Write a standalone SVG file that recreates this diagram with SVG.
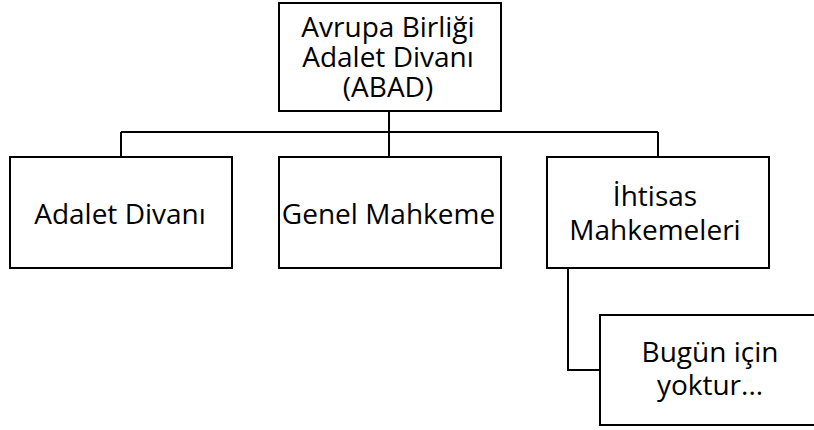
<svg xmlns="http://www.w3.org/2000/svg" width="814" height="430" viewBox="0 0 814 430">
<style>
.box{fill:#fff;stroke:#000;stroke-width:2}
.t{font-family:"Open Sans",Lato,sans-serif;font-size:28px;fill:#000;text-anchor:middle}
.c{fill:none;stroke:#000;stroke-width:2}
</style>
<rect width="814" height="430" fill="#fff"/>
<g id="connectors">
<path class="c" d="M389 111V132M121 132H658M121 132V157M389 132V157M658 132V157"/>
<path class="c" d="M568 268V370H600"/>
</g>
<g id="abad">
<rect class="box" x="279" y="3" width="222" height="108"/>
<text class="t" x="388" y="37">Avrupa Birliği</text>
<text class="t" x="388" y="67">Adalet Divanı</text>
<text class="t" x="388" y="97">(ABAD)</text>
</g>
<g id="adalet-divani">
<rect class="box" x="10" y="157" width="222" height="111"/>
<text class="t" x="120" y="224">Adalet Divanı</text>
</g>
<g id="genel-mahkeme">
<rect class="box" x="279" y="157" width="222" height="111"/>
<text class="t" x="388.5" y="224">Genel Mahkeme</text>
</g>
<g id="ihtisas">
<rect class="box" x="547" y="157" width="222" height="111"/>
<text class="t" x="655" y="206">İhtisas</text>
<text class="t" x="655" y="240">Mahkemeleri</text>
</g>
<g id="bugun">
<rect class="box" x="600" y="315" width="222" height="110"/>
<text class="t" x="710" y="362">Bugün için</text>
<text class="t" x="710" y="395">yoktur...</text>
</g>
</svg>
